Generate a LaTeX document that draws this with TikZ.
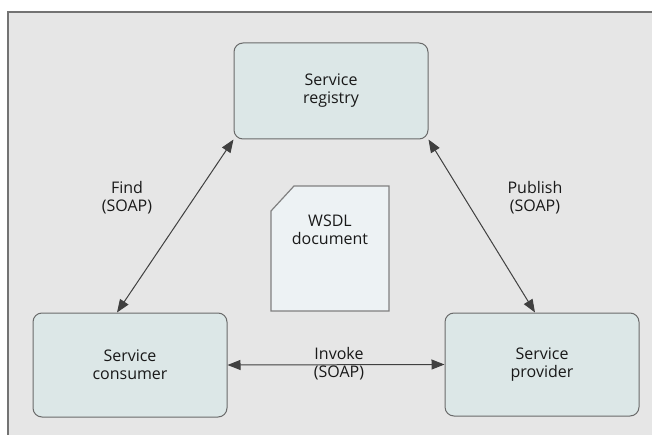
\documentclass[tikz,border=0pt]{standalone}
\usepackage{tikz}
\usetikzlibrary{positioning,arrows.meta}
\usepackage{fontspec}
\setmainfont{Open Sans}
\definecolor{framegray}{HTML}{E6E6E6}
\definecolor{boxfill}{HTML}{DCE7E7}
\definecolor{docfill}{HTML}{EDF2F4}
\definecolor{edgegray}{HTML}{6A6A6A}
\tikzset{
	svcbox/.style={draw=edgegray, fill=boxfill, line width=1pt,
		rounded corners=9pt, minimum width=194pt, align=center,
		text=black!90, font=\fontsize{16}{18}\selectfont},
	lbl/.style={align=center, text=black!90, font=\fontsize{16}{18}\selectfont},
	link/.style={<->, line width=1pt, draw=black!75}
}
\begin{document}
\begin{tikzpicture}[x=1pt,y=-1pt,>={Triangle[length=13pt,width=10pt]}]
	\useasboundingbox (0,0) rectangle (652,435);
	% background frame, open to the right and bottom
	\fill[white] (0,0) rectangle (652,435);
	\draw[fill=framegray, draw=gray!90!black, line width=1.4pt] (8,12) rectangle (670,450);
	% the three services
	\node[svcbox, minimum height=96pt] (reg) at (331,91) {Service\\registry};
	\node[svcbox, minimum height=104pt] (cons) at (130,365) {Service\\consumer};
	\node[svcbox, minimum height=103pt] (prov) at (542,364.5) {Service\\provider};
	% wsdl sheet
	\draw[fill=docfill, draw=gray, line width=1.2pt]
		(294,186) -- (389,186) -- (389,311) -- (271,311) -- (271,211) -- cycle;
	\node[lbl] (doc) at (330,230) {WSDL\\document};
	% connectors
	\draw[link] (reg.south west) -- ([xshift=-13]cons.north);
	\draw[link] (reg.south east) -- ([xshift=-7]prov.north);
	\draw[link] (cons.east) -- (prov.west);
	\node[lbl] (find) at (127,198) {Find\\(SOAP)};
	\node[lbl] (publish) at (535,198) {Publish\\(SOAP)};
	\node[lbl] (invoke) at (339,364) {Invoke\\(SOAP)};
\end{tikzpicture}
\end{document}
